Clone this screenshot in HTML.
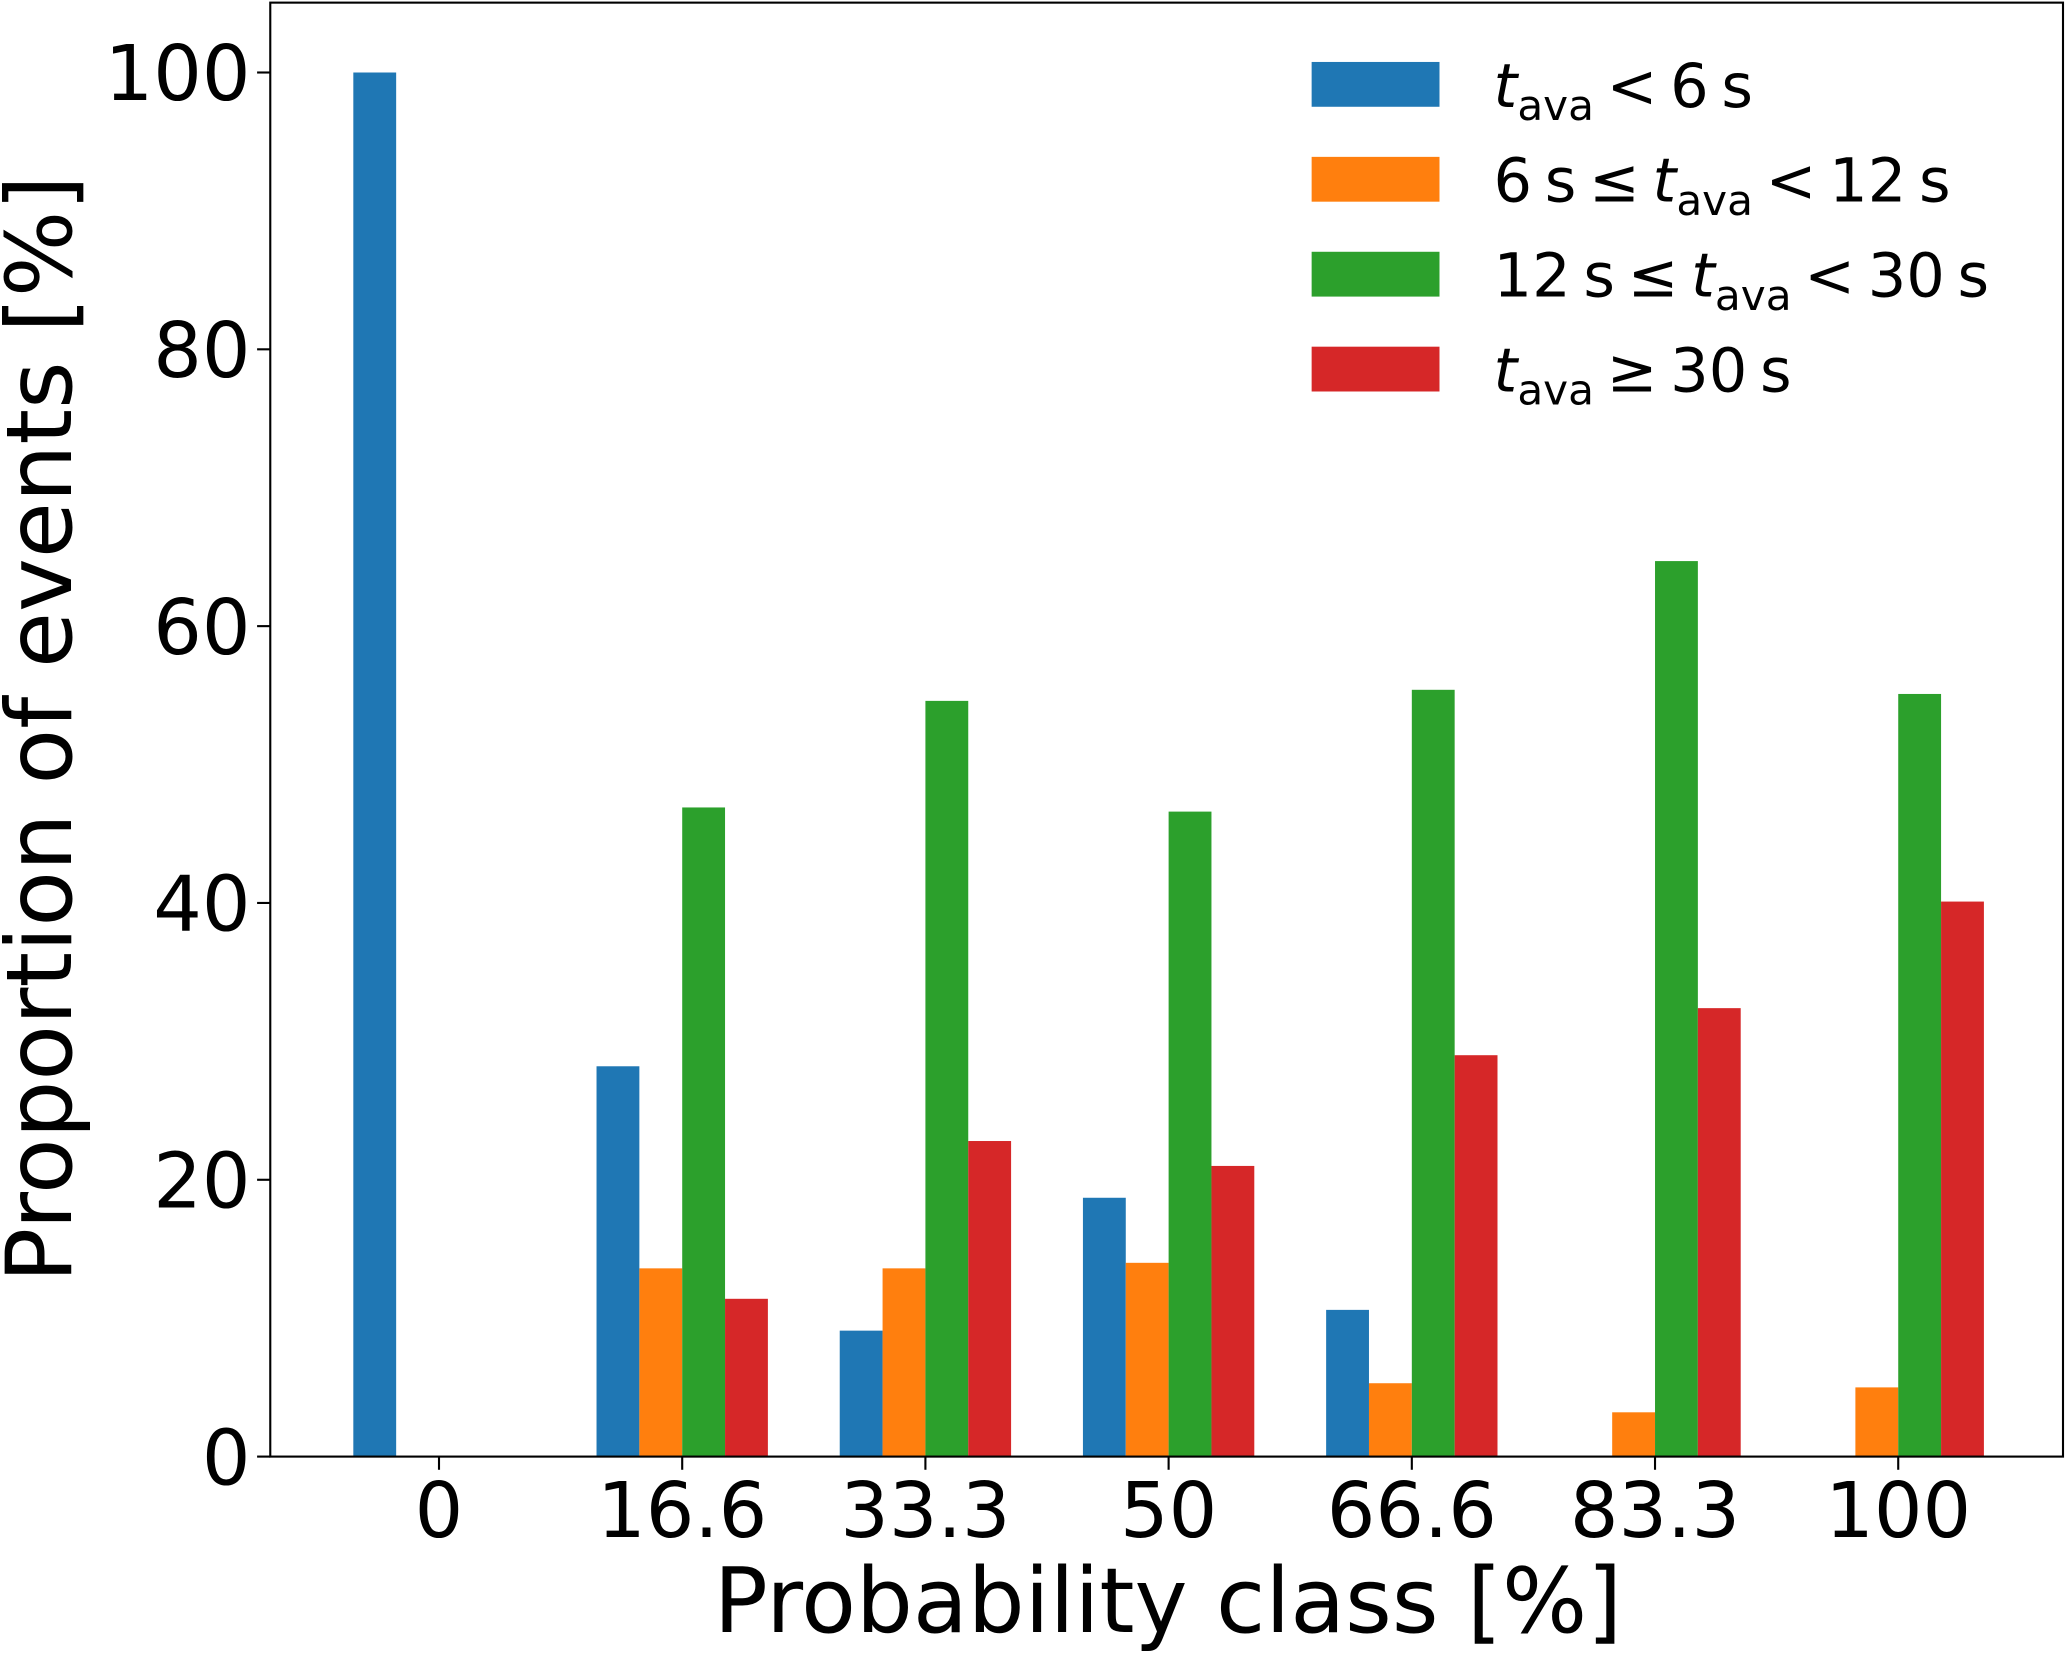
<!DOCTYPE html>
<html><head><meta charset="utf-8"><style>
html,body{margin:0;padding:0;background:#fff;}
svg{display:block;font-family:"DejaVu Sans","Liberation Sans",sans-serif;}
</style></head><body>
<svg id="chart" width="2067" height="1653" viewBox="0 0 1568 1254" xmlns="http://www.w3.org/2000/svg">
<g id="bars"></g>
<g id="axes"></g>
<rect x="205" y="2" width="1360" height="1103" fill="none" stroke="#000" stroke-width="1.6"/>
<text x="886" y="1238" font-size="68" text-anchor="middle">Probability class [%]</text>
<text transform="translate(54,553) rotate(-90)" font-size="69" text-anchor="middle">Proportion of events [%]</text>
<g font-size="46" word-spacing="-5">
<g><rect x="995" y="47" width="97" height="34" fill="#1f77b4"/><text x="1133" y="81"><tspan font-style="italic">t</tspan><tspan font-size="32" dy="10">ava</tspan><tspan dy="-10"> &lt; 6 s</tspan></text></g>
<g><rect x="995" y="119" width="97" height="34" fill="#ff7f0e"/><text x="1133" y="153">6 s ≤ <tspan font-style="italic">t</tspan><tspan font-size="32" dy="10">ava</tspan><tspan dy="-10"> &lt; 12 s</tspan></text></g>
<g><rect x="995" y="191" width="97" height="34" fill="#2ca02c"/><text x="1133" y="225">12 s ≤ <tspan font-style="italic">t</tspan><tspan font-size="32" dy="10">ava</tspan><tspan dy="-10"> &lt; 30 s</tspan></text></g>
<g><rect x="995" y="263" width="97" height="34" fill="#d62728"/><text x="1133" y="297"><tspan font-style="italic">t</tspan><tspan font-size="32" dy="10">ava</tspan><tspan dy="-10"> ≥ 30 s</tspan></text></g>
</g>
</svg>
<script>
const categories = ["0","16.6","33.3","50","66.6","83.3","100"];
const seriesLt6 = [100, 28.2, 9.1, 18.7, 10.6, 0, 0];
const series6to12 = [0, 13.6, 13.6, 14.0, 5.3, 3.2, 5.0];
const series12to30 = [0, 46.9, 54.6, 46.6, 55.4, 64.7, 55.1];
const seriesGe30 = [0, 11.4, 22.8, 21.0, 29.0, 32.4, 40.1];
const yTicks = [0, 20, 40, 60, 80, 100];
const seriesColors = ["#1f77b4","#ff7f0e","#2ca02c","#d62728"];
const seriesNames = ["lt6","6-12","12-30","ge30"];
const NS = "http://www.w3.org/2000/svg";
const y = v => 1105 - v * 10.5;
const xc = i => 333 + i * 184.5;
const bw = 32.5;
const bars = document.getElementById("bars");
const axes = document.getElementById("axes");
[seriesLt6, series6to12, series12to30, seriesGe30].forEach((s, k) => {
  s.forEach((v, i) => {
    if (v <= 0) return;
    const r = document.createElementNS(NS, "rect");
    r.setAttribute("x", xc(i) + (k - 2) * bw);
    r.setAttribute("y", y(v));
    r.setAttribute("width", bw);
    r.setAttribute("height", y(0) - y(v));
    r.setAttribute("fill", seriesColors[k]);
    
    
    bars.appendChild(r);
  });
});
yTicks.forEach(t => {
  const l = document.createElementNS(NS, "line");
  l.setAttribute("x1", 195); l.setAttribute("x2", 205);
  l.setAttribute("y1", y(t)); l.setAttribute("y2", y(t));
  l.setAttribute("stroke", "#000"); l.setAttribute("stroke-width", "1.6");
  
  
  axes.appendChild(l);
  const tx = document.createElementNS(NS, "text");
  tx.setAttribute("x", 190); tx.setAttribute("y", y(t) + 21);
  tx.setAttribute("font-size", "58"); tx.setAttribute("text-anchor", "end");
  tx.textContent = t;
  
  
  axes.appendChild(tx);
});
categories.forEach((c, i) => {
  const l = document.createElementNS(NS, "line");
  l.setAttribute("x1", xc(i)); l.setAttribute("x2", xc(i));
  l.setAttribute("y1", 1105); l.setAttribute("y2", 1115);
  l.setAttribute("stroke", "#000"); l.setAttribute("stroke-width", "1.6");
  
  
  axes.appendChild(l);
  const tx = document.createElementNS(NS, "text");
  tx.setAttribute("x", xc(i)); tx.setAttribute("y", 1166);
  tx.setAttribute("font-size", "58"); tx.setAttribute("text-anchor", "middle");
  tx.textContent = c;
  
  
  axes.appendChild(tx);
});
</script>
</body></html>
